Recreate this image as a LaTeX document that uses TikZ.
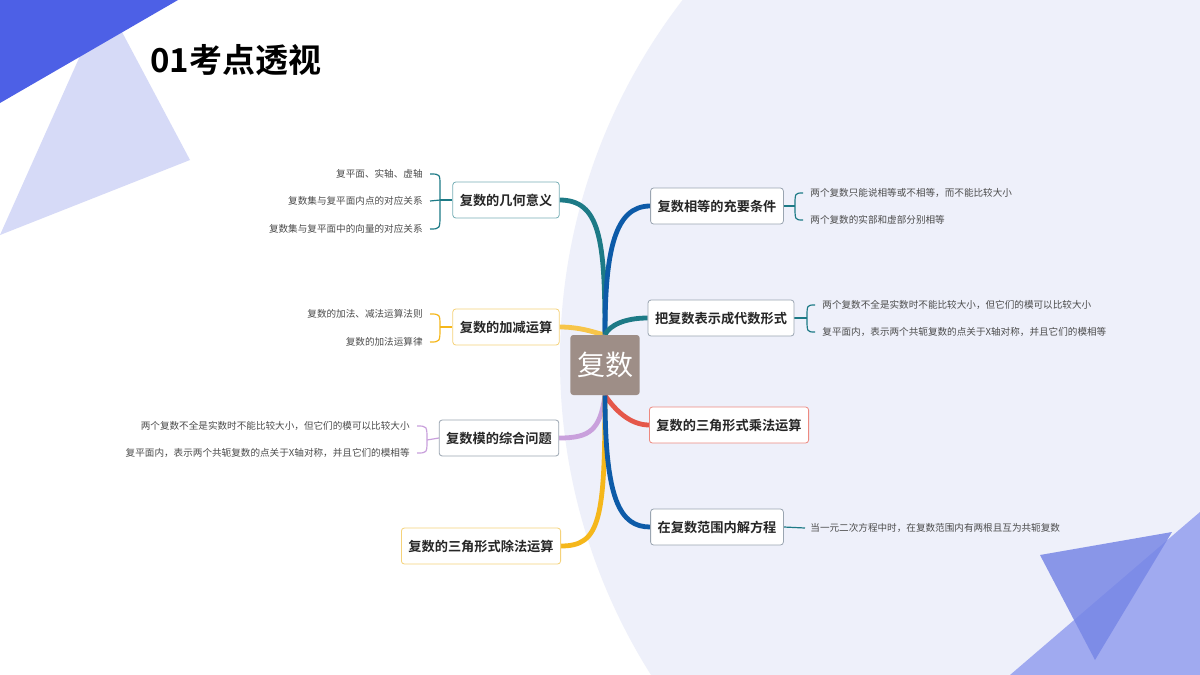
\documentclass[tikz,border=0pt]{standalone}
\usepackage{fontspec}
\setmainfont{Noto Sans CJK SC}[BoldFont={Noto Sans CJK SC Bold}]
\usetikzlibrary{calc}
\pgfdeclarelayer{bg}\pgfdeclarelayer{lines}
\pgfsetlayers{bg,lines,main}
\definecolor{teal1}{HTML}{1D7A86}
\definecolor{blue1}{HTML}{0D5BA8}
\definecolor{yel1}{HTML}{F5B71B}
\definecolor{yelb}{HTML}{F5D27A}
\definecolor{red1}{HTML}{E5574A}
\definecolor{pur1}{HTML}{C9A0DC}
\definecolor{boxb}{HTML}{9AA5B1}
\definecolor{bgc}{HTML}{EEF0FA}
\tikzset{
 x=0.5pt,y=-0.5pt,
 topic/.style={draw=boxb,fill=white,rounded corners=1.5pt,line width=0.4pt,font=\bfseries\fontsize{6.6}{7}\selectfont,inner xsep=3.5pt,minimum height=18pt,text=black!85},
 leaf/.style={font=\fontsize{4.8}{5}\selectfont,text=black!70,inner sep=1pt},
 branch/.style={line width=2.4pt},
 brk/.style={line width=0.6pt}
}
\begin{document}
\begin{tikzpicture}
\useasboundingbox (0,0) rectangle (1200,675);
\begin{pgfonlayer}{bg}
\fill[white] (0,0) rectangle (1200,675);
\begin{scope}
\clip (0,0) rectangle (1200,675);
\fill[bgc] (1150,360) circle[radius=590];
\end{scope}
\fill[color={rgb,255:red,214;green,218;blue,247}] (105,0) -- (190,160) -- (0,235) -- cycle;
\fill[color={rgb,255:red,77;green,96;blue,230}] (0,0) -- (178,0) -- (0,103) -- cycle;
\fill[color={rgb,255:red,160;green,170;blue,240}] (1010,675) -- (1200,512) -- (1200,675) -- cycle;
\fill[color={rgb,255:red,120;green,135;blue,230},opacity=0.85] (1040,555) -- (1172,532) -- (1095,660) -- cycle;
\end{pgfonlayer}
\node[anchor=west,font=\bfseries\fontsize{16.5}{18}\selectfont] (title) at (143,60) {01考点透视};
\node[fill={rgb,255:red,158;green,142;blue,135},rounded corners=1.5pt,minimum width=32pt,minimum height=30pt,text=white,font=\fontsize{14}{15}\selectfont] (c) at (605,365) {复数};
\node[topic,draw=teal1!60] (L1) at (506,200) {复数的几何意义};
\node[topic,draw=yelb] (L2) at (506,327) {复数的加减运算};
\node[topic] (L3) at (499,438) {复数模的综合问题};
\node[topic,draw=yelb] (L4) at (481,546) {复数的三角形式除法运算};
\node[topic] (R1) at (717,206) {复数相等的充要条件};
\node[topic] (R2) at (721,318) {把复数表示成代数形式};
\node[topic,draw=red1!70] (R3) at (729,425) {复数的三角形式乘法运算};
\node[topic] (R4) at (717,527) {在复数范围内解方程};
% leaves
\node[leaf,anchor=east] (a1) at (425,174) {复平面、实轴、虚轴};
\node[leaf,anchor=east] (a2) at (425,201) {复数集与复平面内点的对应关系};
\node[leaf,anchor=east] (a3) at (425,229) {复数集与复平面中的向量的对应关系};
\node[leaf,anchor=east] (b1) at (425,314) {复数的加法、减法运算法则};
\node[leaf,anchor=east] (b2) at (425,342) {复数的加法运算律};
\node[leaf,anchor=east] (d1) at (412,426) {两个复数不全是实数时不能比较大小，但它们的模可以比较大小};
\node[leaf,anchor=east] (d2) at (412,453) {复平面内，表示两个共轭复数的点关于X轴对称，并且它们的模相等};
\node[leaf,anchor=west] (e1) at (808,193) {两个复数只能说相等或不相等，而不能比较大小};
\node[leaf,anchor=west] (e2) at (808,220) {两个复数的实部和虚部分别相等};
\node[leaf,anchor=west] (f1) at (820,305) {两个复数不全是实数时不能比较大小，但它们的模可以比较大小};
\node[leaf,anchor=west] (f2) at (820,332) {复平面内，表示两个共轭复数的点关于X轴对称，并且它们的模相等};
\node[leaf,anchor=west] (g1) at (808,528) {当一元二次方程中时，在复数范围内有两根且互为共轭复数};
\begin{pgfonlayer}{lines}
\draw[branch,teal1] (c.north) .. controls (605,240) and (600,200) .. (L1.east);
\draw[branch,yel1!80] (c.north) .. controls (600,335) and (585,327) .. (L2.east);
\draw[branch,pur1] (c.south) .. controls (600,430) and (590,438) .. (L3.east);
\draw[branch,yel1] (c.south) .. controls (605,520) and (600,546) .. (L4.east);
\draw[branch,blue1] (c.north) .. controls (605,250) and (615,206) .. (R1.west);
\draw[branch,teal1] (c.north) .. controls (610,325) and (625,318) .. (R2.west);
\draw[branch,red1] (c.south) .. controls (615,410) and (630,425) .. (R3.west);
\draw[branch,blue1] (c.south) .. controls (605,500) and (620,527) .. (R4.west);
% brackets
\draw[brk,teal1] (L1.west) -- (440,200);
\draw[brk,teal1] ($(a1.east)+(5,0)$) .. controls (440,174) .. (440,186) -- (440,214) .. controls (440,229) .. ($(a3.east)+(5,0)$);
\draw[brk,teal1] (440,200) -- ($(a2.east)+(5,0)$);
\draw[brk,yel1] (L2.west) -- (440,327);
\draw[brk,yel1] ($(b1.east)+(5,0)$) .. controls (440,314) .. (440,327) .. controls (440,342) .. ($(b2.east)+(5,0)$);
\draw[brk,pur1] (L3.west) -- (427,440);
\draw[brk,pur1] ($(d1.east)+(5,0)$) .. controls (427,426) .. (427,440) .. controls (427,453) .. ($(d2.east)+(5,0)$);
\draw[brk,teal1] (R1.east) -- (795,206);
\draw[brk,teal1] ($(e1.west)+(-5,0)$) .. controls (795,193) .. (795,206) .. controls (795,220) .. ($(e2.west)+(-5,0)$);
\draw[brk,teal1] (R2.east) -- (807,318);
\draw[brk,teal1] ($(f1.west)+(-5,0)$) .. controls (807,305) .. (807,318) .. controls (807,332) .. ($(f2.west)+(-5,0)$);
\draw[brk,teal1] (R4.east) -- ($(g1.west)+(-3,0)$);
\end{pgfonlayer}
\end{tikzpicture}
\end{document}
